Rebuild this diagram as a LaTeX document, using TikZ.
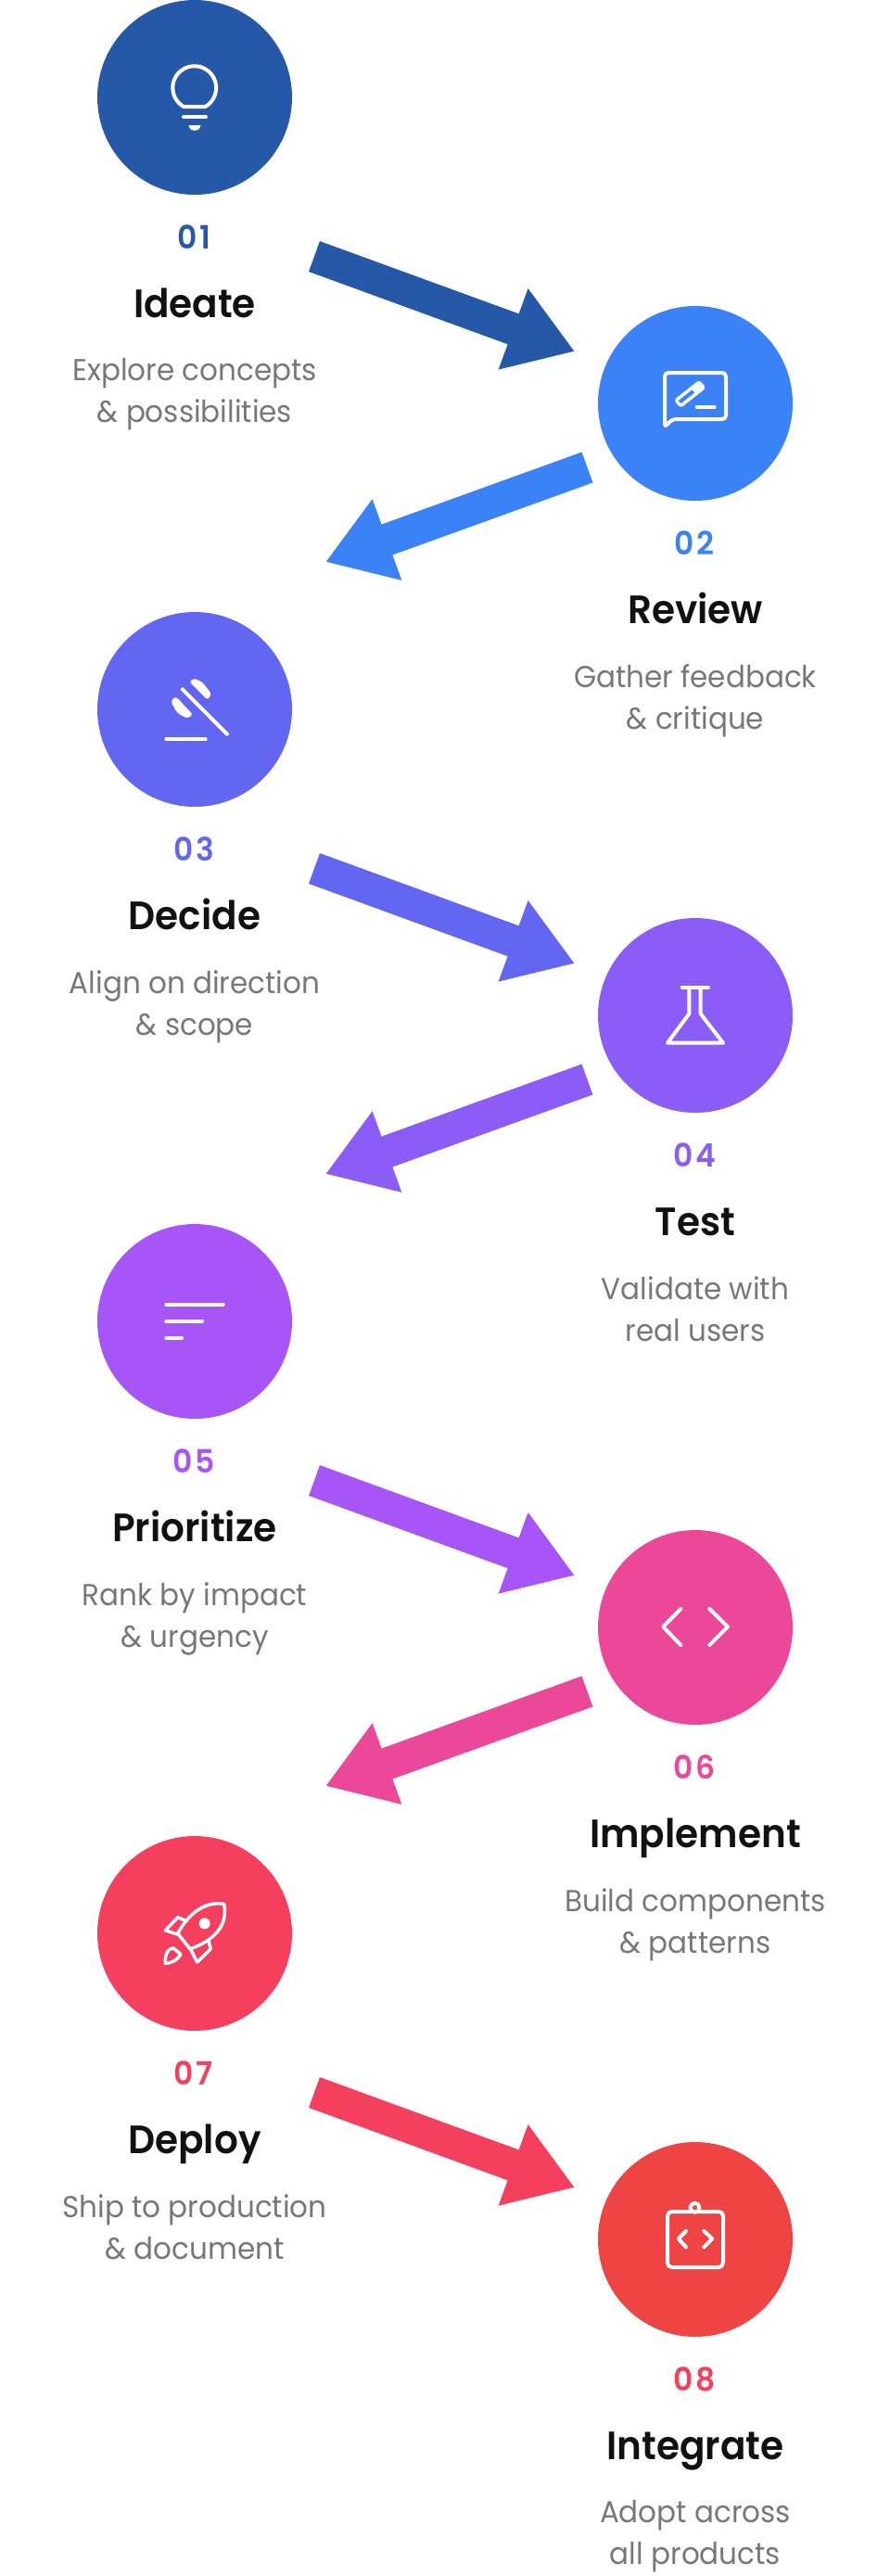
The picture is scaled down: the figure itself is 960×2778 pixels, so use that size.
\documentclass[tikz,border=0pt]{standalone}
\usepackage{fontspec}
\setmainfont{Poppins}[FakeStretch=0.95]
\newfontfamily\numfont{Poppins SemiBold}[LetterSpace=8,FakeStretch=0.95]
\newfontfamily\headfont{Poppins SemiBold}[FakeStretch=0.95]
\usetikzlibrary{arrows.meta}
\definecolor{StepA}{HTML}{2558A6}
\definecolor{StepB}{HTML}{3B82F6}
\definecolor{StepC}{HTML}{6366F1}
\definecolor{StepD}{HTML}{8B5CF6}
\definecolor{StepE}{HTML}{A855F7}
\definecolor{StepF}{HTML}{EC4899}
\definecolor{StepG}{HTML}{F43F5E}
\definecolor{StepH}{HTML}{EF4444}
\definecolor{StepDark}{HTML}{111111}
\definecolor{StepGrey}{HTML}{777777}
\tikzset{
  disc/.style={circle, fill=#1, minimum size=157.5pt, inner sep=0pt},
  num/.style={anchor=base, inner sep=0pt, text=#1, font=\numfont\fontsize{26pt}{26pt}\selectfont},
  head/.style={anchor=base, inner sep=0pt, text=StepDark, font=\headfont\fontsize{32pt}{32pt}\selectfont},
  desc/.style={anchor=north, inner sep=0pt, align=center, text=StepGrey, font=\fontsize{24.5pt}{33.75pt}\selectfont},
  flow/.style={draw=#1, line width=26.25pt, -{Triangle[length=53pt, width=66pt]}},
  iconline/.style={draw=white, line width=3pt, line cap=round, line join=round},
  iconfill/.style={fill=white, draw=white, line width=1pt, line join=round}
}
\begin{document}
\begin{tikzpicture}[x=0.75pt, y=-0.75pt]
  \useasboundingbox (0,0) rectangle (960,2778);
  \path node (A)  at (210,105)  [disc=StepA] {}
        node (An) at (209,268)  [num=StepA] {01}
        node (At) at (210,342)  [head] {Ideate}
        node (Ad) at (210,386)  [desc] {Explore concepts\\ \& possibilities};
  \path node (B)  at (750,435)  [disc=StepB] {}
        node (Bn) at (749,598)  [num=StepB] {02}
        node (Bt) at (750,672)  [head] {Review}
        node (Bd) at (750,716)  [desc] {Gather feedback\\ \& critique};
  \path node (C)  at (210,765)  [disc=StepC] {}
        node (Cn) at (209,928)  [num=StepC] {03}
        node (Ct) at (210,1002) [head] {Decide}
        node (Cd) at (210,1046) [desc] {Align on direction\\ \& scope};
  \path node (D)  at (750,1095) [disc=StepD] {}
        node (Dn) at (749,1258) [num=StepD] {04}
        node (Dt) at (750,1332) [head] {Test}
        node (Dd) at (750,1376) [desc] {Validate with\\ real users};
  \path node (E)  at (210,1425) [disc=StepE] {}
        node (En) at (209,1588) [num=StepE] {05}
        node (Et) at (210,1662) [head] {Prioritize}
        node (Ed) at (210,1706) [desc] {Rank by impact\\ \& urgency};
  \path node (F)  at (750,1755) [disc=StepF] {}
        node (Fn) at (749,1918) [num=StepF] {06}
        node (Ft) at (750,1992) [head] {Implement}
        node (Fd) at (750,2036) [desc] {Build components\\ \& patterns};
  \path node (G)  at (210,2085) [disc=StepG] {}
        node (Gn) at (209,2248) [num=StepG] {07}
        node (Gt) at (210,2322) [head] {Deploy}
        node (Gd) at (210,2366) [desc] {Ship to production\\ \& document};
  \path node (H)  at (750,2415) [disc=StepH] {}
        node (Hn) at (749,2578) [num=StepG] {08}
        node (Ht) at (750,2652) [head] {Integrate}
        node (Hd) at (750,2696) [desc] {Adopt across\\ all products};
  \path coordinate (ABs) at (339,276.5)  coordinate (ABe) at (620,379)
        coordinate (BCs) at (633.5,504)  coordinate (BCe) at (351,606)
        coordinate (CDs) at (339,936.5)  coordinate (CDe) at (620,1039)
        coordinate (DEs) at (633.5,1164) coordinate (DEe) at (351,1266)
        coordinate (EFs) at (339,1596.5) coordinate (EFe) at (620,1699)
        coordinate (FGs) at (633.5,1824) coordinate (FGe) at (351,1926)
        coordinate (GHs) at (339,2256.5) coordinate (GHe) at (620,2359);
  \draw[flow=StepA] (ABs) -- (ABe);
  \draw[flow=StepB] (BCs) -- (BCe);
  \draw[flow=StepC] (CDs) -- (CDe);
  \draw[flow=StepD] (DEs) -- (DEe);
  \draw[flow=StepE] (EFs) -- (EFe);
  \draw[flow=StepF] (FGs) -- (FGe);
  \draw[flow=StepG] (GHs) -- (GHe);
  \draw[iconline] (198,115) arc[start angle=240, end angle=-60, radius=17.6pt] -- cycle;
  \draw[iconline] (198,126) -- (222,126);
  \fill[white] (203.5,135) -- (216.5,135) .. controls (216,139) and (213,141) .. (210,141) .. controls (207,141) and (204,139) .. cycle;
  \draw[iconline, rounded corners=3pt] (717,402) -- (783,402) -- (783,452) -- (725,452) -- (717,461) -- cycle;
  \draw[iconline, line width=2.6pt, rounded corners=1.5pt] (734.3,437.7) -- (759.3,418) -- (754.1,412) -- (729.1,431.7) -- cycle;
  \fill[white] (750.6,424.9) -- (759.3,418) -- (754.1,412) -- (745.4,418.9) -- cycle;
  \draw[iconline] (751.7,439) -- (770.7,439);
  \draw[iconline] (196.7,743.3) -- (245,791.7);
  \draw[iconline] (179.3,797) -- (221.7,797);
  \filldraw[iconfill, rounded corners=2pt] (205,735) -- (210,732.3) -- (218.3,736.7) -- (227.3,748.3) -- (224,754) -- cycle;
  \filldraw[iconfill, rounded corners=2pt] (185,756.7) -- (189.3,751.7) -- (207.3,770.7) -- (201.7,774) -- (191.7,768.3) -- cycle;
  \draw[iconline] (735.7,1064.7) -- (764,1064.7);
  \draw[iconline] (743.3,1064.7) -- (743.3,1093.3) -- (720,1124.7) -- (780,1124.7) -- (755.7,1093.3) -- (755.7,1064.7);
  \draw[iconline] (179.3,1406.7) -- (240.7,1406.7);
  \draw[iconline] (179.3,1424.7) -- (218,1424.7);
  \draw[iconline] (179.3,1442.7) -- (196,1442.7);
  \draw[iconline] (734.3,1735) -- (715.3,1754.3) -- (734.3,1774);
  \draw[iconline] (765.3,1735) -- (785,1754.3) -- (765.3,1774);
  \draw[iconline, line width=2.6pt] (205,2101.7) .. controls (233,2092) and (246,2075) .. (241.7,2053.3) .. controls (225,2050) and (205,2060) .. (191.7,2085) -- cycle;
  \draw[iconline, line width=2.6pt] (201.7,2071.7) -- (191.7,2067.7) -- (178.3,2081.7) -- (191.7,2086);
  \draw[iconline, line width=2.6pt] (225,2093.3) -- (227.3,2101.7) -- (212.7,2116) -- (206,2102.7);
  \draw[iconline, line width=2.6pt] (178.3,2117.3) .. controls (178,2108) and (180,2102) .. (186.7,2100.7) -- (195,2107.3) .. controls (192,2113) and (186,2117) .. cycle;
  \fill[white] (220.7,2074.3) circle[radius=4.5pt];
  \draw[iconline, rounded corners=3.5pt] (720,2385) rectangle (780,2445);
  \draw[iconline] (749.5,2380.7) circle[radius=3.7pt];
  \draw[iconline] (740,2406) -- (731.7,2414.3) -- (740,2423.3);
  \draw[iconline] (759.3,2406) -- (768.3,2414.3) -- (759.3,2423.3);
\end{tikzpicture}
\end{document}
